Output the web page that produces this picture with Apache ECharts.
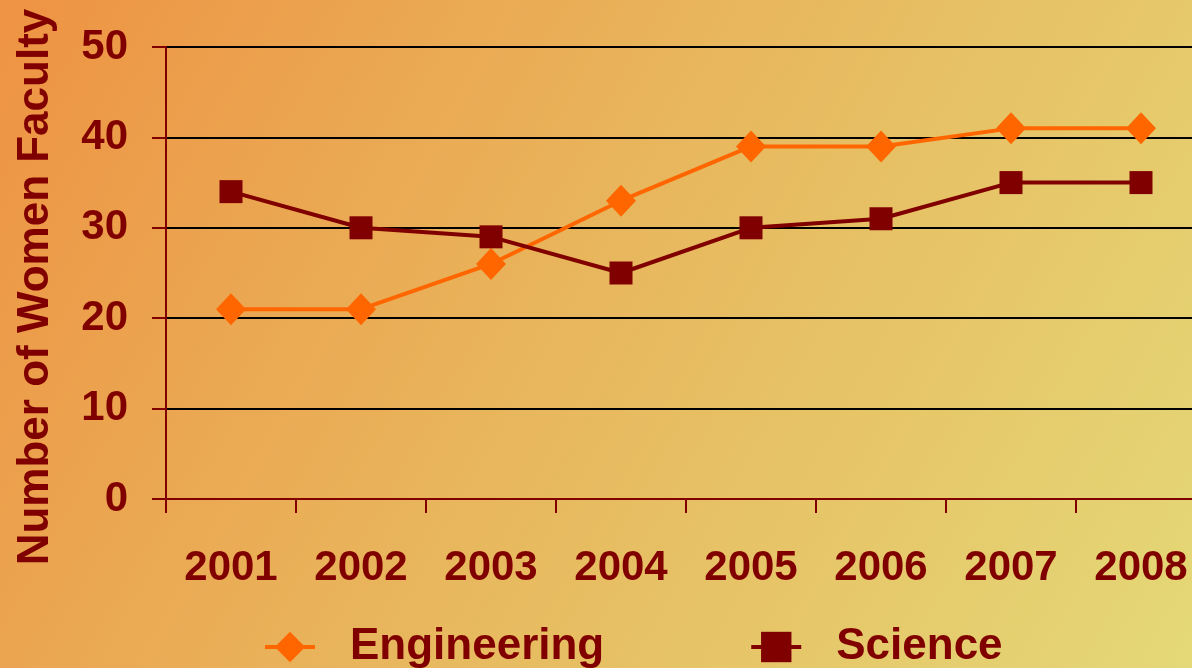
<!DOCTYPE html>
<html>
<head>
<meta charset="utf-8">
<script src="https://cdn.jsdelivr.net/npm/echarts@6/dist/echarts.min.js"></script>
<style>
  html, body { margin: 0; padding: 0; }
  #chart { width: 1192px; height: 668px; }
</style>
</head>
<body>
<div id="chart"></div>
<script>
const years = ['2001', '2002', '2003', '2004', '2005', '2006', '2007', '2008']
const engineering = [21, 21, 26, 33, 39, 39, 41, 41]
const science = [34, 30, 29, 25, 30, 31, 35, 35]

const darkRed = '#800000'
const orange = '#FF6600'
const font = 'Liberation Sans, Arial, sans-serif'

const chart = echarts.init(document.getElementById('chart'))
chart.setOption({
  backgroundColor: new echarts.graphic.LinearGradient(0, 0, 1, 1, [
    { offset: 0, color: '#EE9343' },
    { offset: 0.5, color: '#E8B85E' },
    { offset: 1, color: '#E4D877' }
  ]),

  grid: {
    left: 166,
    top: 47,
    width: 1040,
    height: 452,
    outerBoundsMode: 'none'
  },

  legend: {
    data: ['Engineering', 'Science'],
    left: 258,
    top: 620,
    itemWidth: 50,
    itemHeight: 38,
    itemGap: 145,
    lineStyle: { width: 4 },
    textStyle: {
      color: darkRed,
      fontFamily: font,
      fontWeight: 'bold',
      fontSize: 44,
      padding: [0, 0, 0, 30]
    }
  },

  xAxis: {
    type: 'category',
    data: years,
    axisLine: { lineStyle: { color: darkRed, width: 2 } },
    axisTick: { show: true, length: 14, lineStyle: { color: darkRed, width: 2 } },
    axisLabel: {
      color: darkRed,
      fontFamily: font,
      fontWeight: 'bold',
      fontSize: 42,
      margin: 48
    }
  },

  yAxis: {
    type: 'value',
    min: 0,
    max: 50,
    interval: 10,
    name: 'Number of Women Faculty',
    nameLocation: 'middle',
    nameGap: 108,
    nameTextStyle: {
      color: darkRed,
      fontFamily: font,
      fontWeight: 'bold',
      fontSize: 44,
      padding: [0, 28, 0, 0]
    },
    axisLine: { show: true, lineStyle: { color: darkRed, width: 2 } },
    axisTick: { show: true, length: 14, lineStyle: { color: darkRed, width: 2 } },
    axisLabel: {
      color: darkRed,
      fontFamily: font,
      fontWeight: 'bold',
      fontSize: 42,
      margin: 38
    },
    splitLine: { lineStyle: { color: '#000', width: 2 } }
  },

  series: [
    {
      name: 'Engineering',
      type: 'line',
      data: engineering,
      symbol: 'diamond',
      symbolSize: [30, 32],
      itemStyle: { color: orange },
      lineStyle: { color: orange, width: 4 }
    },
    {
      name: 'Science',
      type: 'line',
      data: science,
      symbol: 'rect',
      symbolSize: 23,
      itemStyle: { color: darkRed },
      lineStyle: { color: darkRed, width: 4 }
    }
  ]
})
</script>
</body>
</html>
